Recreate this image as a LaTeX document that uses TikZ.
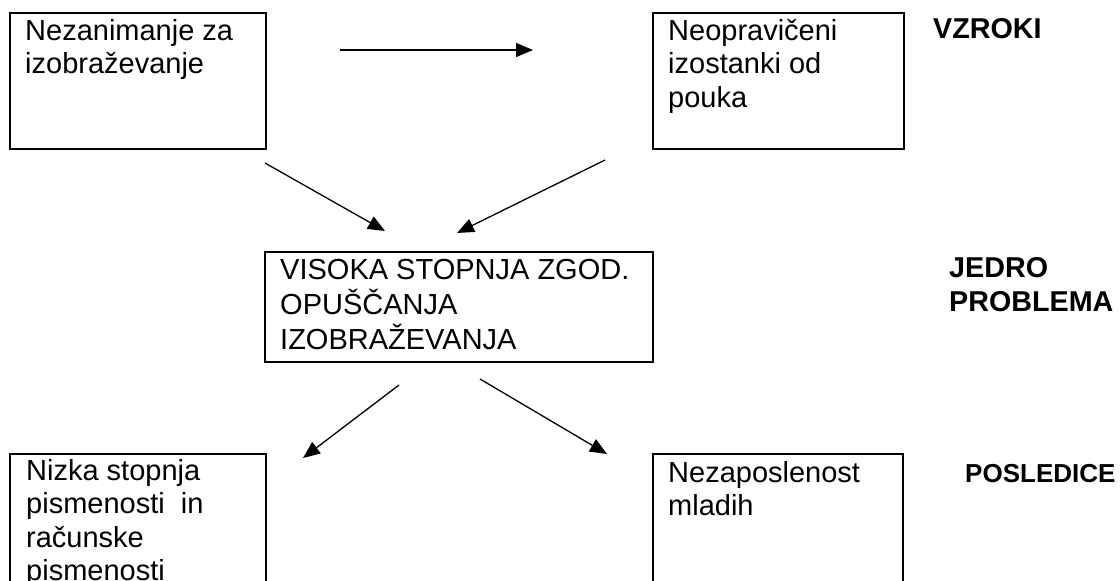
\documentclass[tikz,border=0pt]{standalone}
\usepackage{fontspec}
\setmainfont{Liberation Sans}
\usetikzlibrary{arrows.meta}
\newcommand{\mylines}[1]{\begin{tabular}[t]{@{}l@{}}#1\end{tabular}}
\begin{document}
\begin{tikzpicture}[x=1pt,y=-1pt,
  box/.style={draw=black,line width=1.7pt,rectangle,inner sep=0pt,anchor=north west},
  txt/.style={anchor=base west,inner sep=0pt,font=\fontsize{29}{33.5}\selectfont},
  lbl/.style={anchor=base west,inner sep=0pt,font=\fontsize{28.7}{34}\selectfont\bfseries},
  conn/.style={line width=1.3pt,-{Triangle[length=17pt,width=14pt]}}]
\useasboundingbox (0,0) rectangle (1120,581);
\clip (0,0) rectangle (1120,581);
% boxes
\node[box,minimum width=256pt,minimum height=136pt] (bA) at (9,12) {};
\node[box,minimum width=251pt,minimum height=136pt] (bB) at (652,12) {};
\node[box,minimum width=388pt,minimum height=110pt] (bC) at (264,251) {};
\node[box,minimum width=256pt,minimum height=160pt] (bD) at (9,453) {};
\node[box,minimum width=250pt,minimum height=160pt] (bE) at (652,453) {};
% texts
\node[txt] (tA) at (25,40) {\mylines{Nezanimanje za\\izobraževanje}};
\node[txt] (tB) at (668,40) {\mylines{Neopravičeni\\izostanki od\\pouka}};
\node[txt] (tC) at (280,279) {\mylines{VISOKA STOPNJA ZGOD.\\OPUŠČANJA\\IZOBRAŽEVANJA}};
\node[txt] (tD) at (26,480) {\mylines{Nizka stopnja\\pismenosti\ \ in\\računske\\pismenosti}};
\node[txt] (tE) at (668,482) {\mylines{Nezaposlenost\\mladih}};
% labels
\node[lbl] (l1) at (933,38) {VZROKI};
\node[lbl] (l2) at (949,277) {\mylines{JEDRO\\PROBLEMA}};
\node[lbl,font=\fontsize{26}{30}\selectfont\bfseries] (l3) at (965,482) {POSLEDICE};
% connector end points
\coordinate (h1) at (340,50);
\coordinate (h2) at (533,50);
\coordinate (d1s) at (265,163);
\coordinate (d1e) at (385,231);
\coordinate (d2s) at (605,160);
\coordinate (d2e) at (457,233);
\coordinate (d3s) at (399,385);
\coordinate (d3e) at (303,458);
\coordinate (d4s) at (480,379);
\coordinate (d4e) at (607,454);
\draw[conn] (h1) -- (h2);
\draw[conn] (d1s) -- (d1e);
\draw[conn] (d2s) -- (d2e);
\draw[conn] (d3s) -- (d3e);
\draw[conn] (d4s) -- (d4e);
\end{tikzpicture}
\end{document}
